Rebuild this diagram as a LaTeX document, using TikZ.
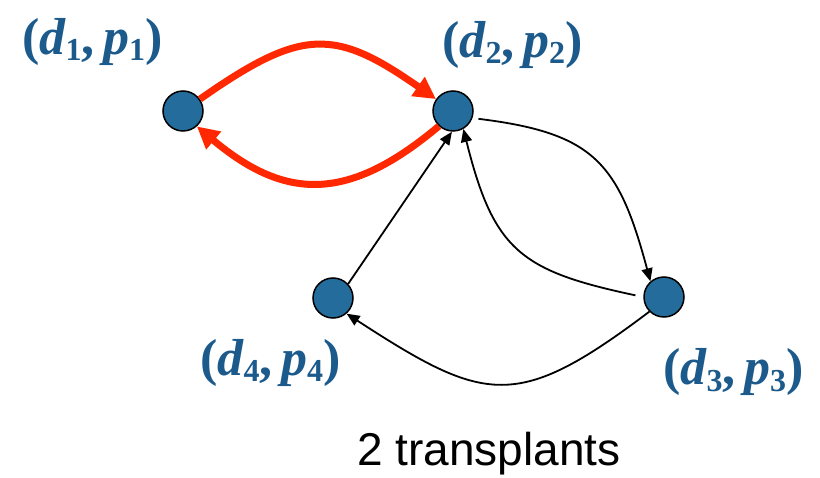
\documentclass[tikz,border=0pt]{standalone}
\usepackage{fontspec}
\setmainfont{Liberation Serif}
\newfontfamily\sansf{Liberation Sans}
\usetikzlibrary{arrows.meta}
\definecolor{nodeblue}{RGB}{35,108,155}
\definecolor{labblue}{RGB}{28,90,140}
\definecolor{arrred}{RGB}{255,40,0}
\newcommand{\sbs}[1]{\raisebox{-6pt}{\fontsize{32}{32}\selectfont\upshape #1}}
\newcommand{\pairlbl}[1]{{\upshape(}d\sbs{#1}{\upshape,}\,p\sbs{#1}{\upshape)}}
\tikzset{
  vert/.style={circle,draw=black,line width=1.5pt,fill=nodeblue,minimum size=40pt,inner sep=0pt},
  lab/.style={text=labblue,font=\fontsize{52}{52}\selectfont\bfseries\itshape,inner sep=0pt,anchor=base west},
  redarr/.style={draw=arrred,line width=7pt,-{Triangle[length=22pt,width=22pt]}},
  blkarr/.style={draw=black,line width=1.8pt,-{Triangle[length=13pt,width=11pt]}}
}
\begin{document}
\begin{tikzpicture}[x=1pt,y=-1pt]
\useasboundingbox (0,0) rectangle (820,478);
\node[vert] (n1) at (183,111) {};
\node[vert] (n2) at (453,111) {};
\node[vert] (n3) at (664,297) {};
\node[vert] (n4) at (333,298) {};
\node[lab] (l1) at (22,55) {\pairlbl{1}};
\node[lab] (l2) at (442,58) {\pairlbl{2}};
\node[lab] (l4) at (200,376) {\pairlbl{4}};
\node[lab] (l3) at (663,385) {\pairlbl{3}};
\node[font=\sansf\fontsize{46}{46}\selectfont,inner sep=0pt,anchor=base] (cap) at (489,465) {2 transplants};
\draw[redarr] (n1) to[out=35,in=145,looseness=1.35] (n2);
\draw[redarr] (n2.227) to[out=220,in=-40,looseness=1.24] (n1.312);
\draw[blkarr,shorten <=6pt] (n2.-20) to[out=-7,in=105,looseness=1.3] (n3.131);
\draw[blkarr,shorten <=8pt] (n3.180) to[out=168,in=-76,looseness=1.3] (n2.-60);
\draw[blkarr] (n4.43) -- (n2.267);
\draw[blkarr] (n3.225) to[out=217,in=-33,looseness=1.4] (n4.311);
\end{tikzpicture}
\end{document}
